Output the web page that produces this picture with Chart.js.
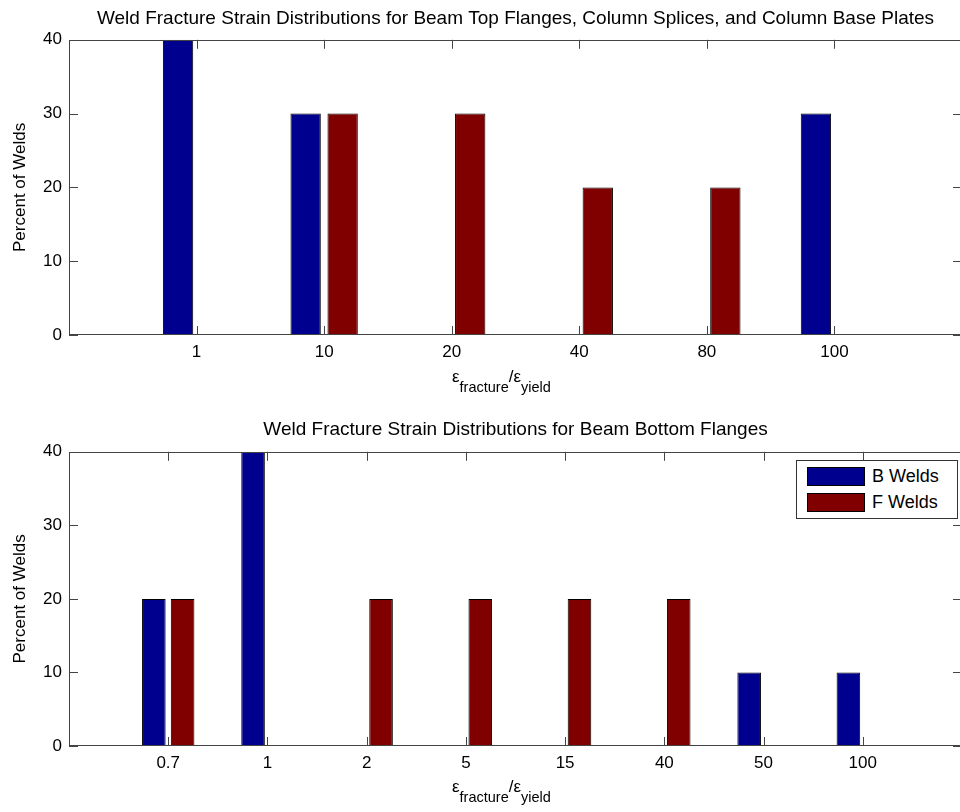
<!DOCTYPE html>
<html>
<head>
<meta charset="utf-8">
<title>Weld Fracture Strain Distributions</title>
<script src="https://cdn.jsdelivr.net/npm/chart.js@4.4.0/dist/chart.umd.min.js"></script>
<style>
  html, body { margin: 0; padding: 0; background: #fff; overflow: hidden; }
  body { width: 960px; height: 812px; position: relative; font-family: "Liberation Sans", Arial, sans-serif; color: #000; }
  .panel { position: absolute; left: 0; }
  .xlabel { position: absolute; left: 452px; font-size: 17px; line-height: 20px; white-space: nowrap; }
  .xlabel sub { font-size: 14.5px; vertical-align: baseline; position: relative; top: 10px; }
  #legend { position: absolute; left: 796px; top: 460px; width: 162px; height: 59px; border: 1px solid #333; background: #fff; box-sizing: border-box; }
  .legend-row { position: absolute; left: 10px; height: 19px; }
  .legend-swatch { position: absolute; left: 0; top: 0; width: 58px; height: 19px; border: 1px solid #000; box-sizing: border-box; }
  .legend-text { position: absolute; left: 65px; top: -1px; font-size: 18px; line-height: 20px; white-space: nowrap; }
</style>
</head>
<body>
<canvas id="top-chart" class="panel" width="964" height="400"></canvas>
<canvas id="bottom-chart" class="panel" width="964" height="412"></canvas>
<div class="xlabel" style="top: 367px">ε<sub>fracture</sub>/ε<sub>yield</sub></div>
<div class="xlabel" style="top: 777px">ε<sub>fracture</sub>/ε<sub>yield</sub></div>
<div id="legend"></div>

<script>
// Data
const topCategories = ['1', '10', '20', '40', '80', '100'];
const topBWelds = [40, 30, 0, 0, 0, 30];
const topFWelds = [0, 30, 30, 20, 20, 0];

const bottomCategories = ['0.7', '1', '2', '5', '15', '40', '50', '100'];
const bottomBWelds = [20, 40, 0, 0, 0, 0, 10, 10];
const bottomFWelds = [20, 0, 20, 20, 20, 20, 0, 0];

const yTicks = [0, 10, 20, 30, 40];
const seriesNames = ['B Welds', 'F Welds'];
const seriesColors = ['#00008f', '#800000'];

const FONT = '"Liberation Sans", Arial, sans-serif';
const TICK_LEN = 9;

document.getElementById('top-chart').style.top = '0px';
document.getElementById('bottom-chart').style.top = '400px';

// Draws the MATLAB style box with inward tick marks
const matlabAxes = {
    id: 'matlabAxes',
    afterDatasetsDraw(chart) {
        const { ctx, chartArea: a, scales: { x, y } } = chart;
        ctx.save();
        ctx.strokeStyle = '#444';
        ctx.lineWidth = 1;
        ctx.beginPath();
        x.ticks.forEach(t => {
            const px = Math.round(x.getPixelForValue(t.value)) + 0.5;
            ctx.moveTo(px, a.top);
            ctx.lineTo(px, a.top + TICK_LEN);
            ctx.moveTo(px, a.bottom);
            ctx.lineTo(px, a.bottom - TICK_LEN);
        });
        y.ticks.forEach(t => {
            const py = Math.round(y.getPixelForValue(t.value)) + 0.5;
            ctx.moveTo(a.left, py);
            ctx.lineTo(a.left + TICK_LEN, py);
            ctx.moveTo(a.right, py);
            ctx.lineTo(a.right - TICK_LEN, py);
        });
        ctx.stroke();
        ctx.strokeRect(Math.round(a.left) + 0.5, Math.round(a.top) + 0.5,
            Math.round(a.width) - 1, Math.round(a.height) - 1);
        ctx.restore();
    }
};

function toPoints(values) {
    return values.map((v, i) => ({ x: i + 1, y: v }));
}

function makeChart(canvasId, cfg) {
    return new Chart(document.getElementById(canvasId), {
        type: 'bar',
        data: {
            datasets: [cfg.b, cfg.f].map((values, k) => ({
                label: seriesNames[k],
                data: toPoints(values),
                backgroundColor: seriesColors[k],
                borderColor: '#000',
                borderWidth: 1,
                categoryPercentage: 0.58,
                barPercentage: 0.82
            }))
        },
        options: {
            responsive: false,
            animation: false,
            layout: { padding: { left: 0, right: 2, top: 0, bottom: 0 } },
            plugins: {
                legend: { display: false },
                tooltip: { enabled: false },
                title: {
                    display: true,
                    fullSize: false,
                    text: cfg.title,
                    color: '#000',
                    font: { family: FONT, size: 19, weight: 'normal' },
                    padding: cfg.titlePadding
                }
            },
            scales: {
                x: {
                    type: 'linear',
                    offset: false,
                    min: 0,
                    max: cfg.categories.length + 1,
                    grid: { display: false, drawTicks: false, offset: false },
                    border: { display: false },
                    afterBuildTicks: s => { s.ticks = cfg.categories.map((_, i) => ({ value: i + 1 })); },
                    afterFit: s => { s.height = cfg.xHeight; },
                    ticks: {
                        callback: (v, i) => cfg.categories[i],
                        color: '#000',
                        font: { family: FONT, size: 17 },
                        padding: 7,
                        maxRotation: 0,
                        autoSkip: false
                    }
                },
                y: {
                    min: 0,
                    max: 40,
                    grid: { display: false, drawTicks: false },
                    border: { display: false },
                    afterBuildTicks: s => { s.ticks = yTicks.map(v => ({ value: v })); },
                    afterFit: s => { s.width = 69; },
                    ticks: {
                        color: '#000',
                        font: { family: FONT, size: 17 },
                        padding: 7
                    },
                    title: {
                        display: true,
                        text: 'Percent of Welds',
                        color: '#000',
                        font: { family: FONT, size: 17 },
                        padding: { top: 10, bottom: 0 }
                    }
                }
            }
        },
        plugins: [matlabAxes]
    });
}

makeChart('top-chart', {
    title: 'Weld Fracture Strain Distributions for Beam Top Flanges, Column Splices, and Column Base Plates',
    categories: topCategories,
    b: topBWelds,
    f: topFWelds,
    titlePadding: { top: 7, bottom: 10 },
    xHeight: 65
});

const bottomChart = makeChart('bottom-chart', {
    title: 'Weld Fracture Strain Distributions for Beam Bottom Flanges',
    categories: bottomCategories,
    b: bottomBWelds,
    f: bottomFWelds,
    titlePadding: { top: 18, bottom: 11 },
    xHeight: 66
});

// Legend box inside the bottom plot, built from the chart's datasets
const legend = document.getElementById('legend');
bottomChart.data.datasets.forEach((ds, i) => {
    const row = document.createElement('div');
    row.className = 'legend-row';
    row.style.top = (6 + i * 26) + 'px';
    row.innerHTML = `<div class="legend-swatch" style="background:${ds.backgroundColor}"></div><div class="legend-text">${ds.label}</div>`;
    legend.appendChild(row);
});
</script>
</body>
</html>
